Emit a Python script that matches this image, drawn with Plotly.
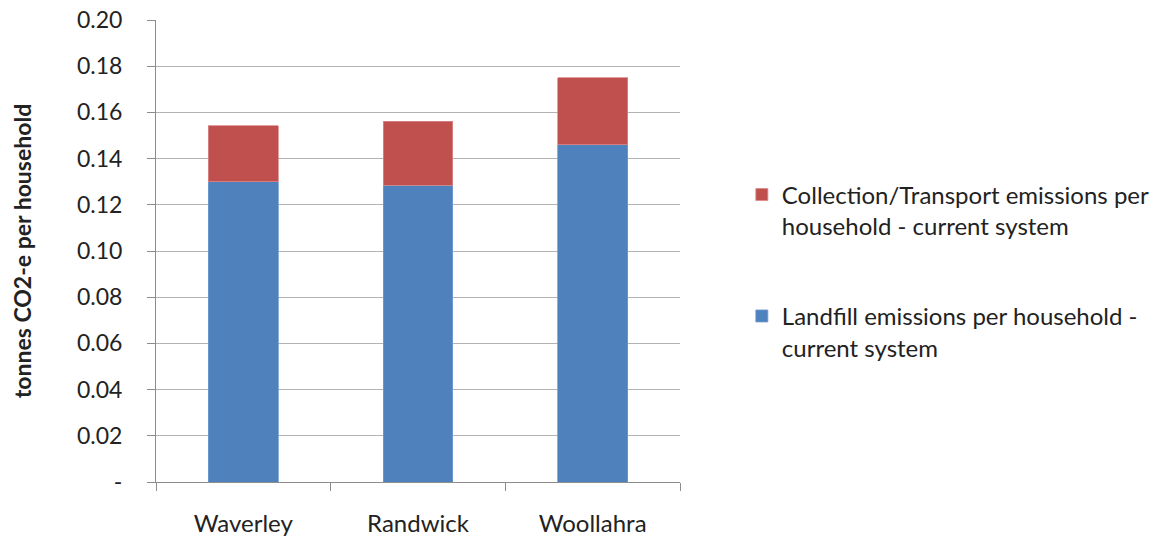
import plotly.graph_objects as go

# Councils and per-household emissions (tonnes CO2-e)
councils = ["Waverley", "Randwick", "Woollahra"]
landfill = [0.130, 0.1285, 0.146]
transport = [0.0243, 0.0276, 0.029]

y_ticks = [0.0, 0.02, 0.04, 0.06, 0.08, 0.10, 0.12, 0.14, 0.16, 0.18, 0.20]
y_tick_text = ["-", "0.02", "0.04", "0.06", "0.08", "0.10", "0.12", "0.14", "0.16", "0.18", "0.20"]

FONT = "Lato, 'Open Sans', sans-serif"
TXT = "#222222"

fig = go.Figure()
fig.add_trace(go.Bar(
    x=councils, y=landfill,
    name="Landfill emissions per household -<br>current system",
    marker=dict(color="#4F81BD", line=dict(color="#6f9bd1", width=0.8)),
    width=0.4, legendgroup="a", legendrank=2,
))
fig.add_trace(go.Bar(
    x=councils, y=transport,
    name="Collection/Transport emissions per<br>household - current system",
    marker=dict(color="#C0504D", line=dict(color="#d98a88", width=0.8)),
    width=0.4, legendgroup="b", legendrank=1,
))

fig.update_layout(
    barmode="stack",
    width=1171, height=537,
    margin=dict(l=156, r=491, t=20, b=55, autoexpand=False),
    paper_bgcolor="white", plot_bgcolor="white",
    font=dict(family=FONT, size=24, color=TXT),
    legend=dict(
        x=1.118, y=0.67, xanchor="left", yanchor="top",
        traceorder="grouped", tracegroupgap=56, valign="top",
        font=dict(family=FONT, size=24, color=TXT),
        itemwidth=30,
    ),
)

fig.update_xaxes(
    automargin=False,
    showline=True, linecolor="#8c8c8c", linewidth=1,
    ticks="outside", tickson="boundaries", ticklen=8, tickcolor="#8c8c8c",
    tickfont=dict(family=FONT, size=24, color=TXT),
    ticklabelstandoff=20,
    showgrid=False,
)
fig.update_yaxes(
    automargin=False,
    range=[0, 0.20],
    tickvals=y_ticks, ticktext=y_tick_text,
    showline=True, linecolor="#8c8c8c", linewidth=1,
    ticks="outside", ticklen=8, tickcolor="#8c8c8c",
    showgrid=True, gridcolor="#b3b3b3", gridwidth=1.3,
    zeroline=False,
    tickfont=dict(family=FONT, size=23, color=TXT),
    ticklabelstandoff=20,
    title=dict(text="<b>tonnes CO2-e per household</b>",
               font=dict(family=FONT, size=23, color=TXT), standoff=38),
)

fig.write_html("out.html")
